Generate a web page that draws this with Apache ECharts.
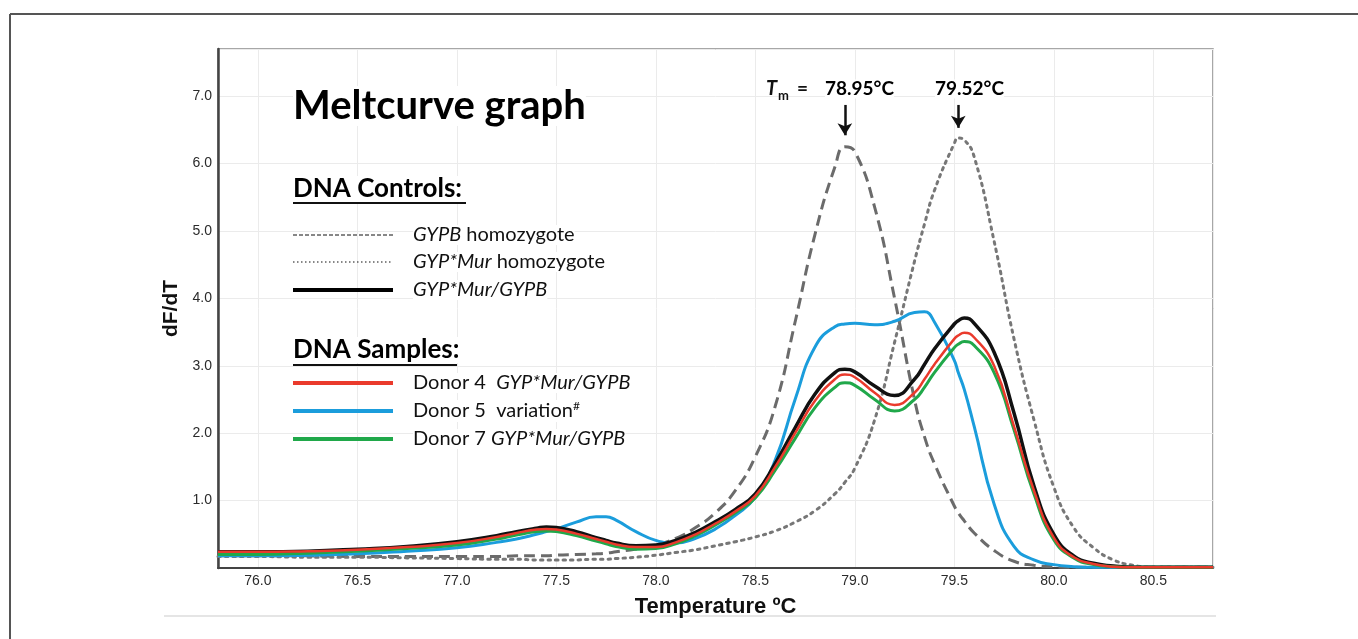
<!DOCTYPE html>
<html>
<head>
<meta charset="utf-8">
<title>Meltcurve graph</title>
<script src="https://cdn.jsdelivr.net/npm/echarts@6.0.0/dist/echarts.min.js"></script>
<style>
    html, body { margin: 0; padding: 0; background: #fff; }
    #chart { width: 1358px; height: 639px; }
</style>
</head>
<body>
<div id="chart"></div>
<script>
// temperatures (ºC) the curves were read at
var temps = [75.8, 76.0, 76.25, 76.5, 76.75, 77.0, 77.2, 77.3, 77.4, 77.45, 77.5, 77.6, 77.7, 77.75, 77.8, 77.9,
    78.0, 78.1, 78.2, 78.3, 78.4, 78.5, 78.6, 78.7, 78.8, 78.9, 78.95, 79.0, 79.1, 79.2, 79.3, 79.35, 79.4,
    79.5, 79.52, 79.55, 79.6, 79.7, 79.8, 79.9, 80.0, 80.1, 80.2, 80.3, 80.4, 80.5, 80.6, 80.8];

// DNA controls
var gypbHomo = [0.18, 0.18, 0.18, 0.17, 0.17, 0.17, 0.17, 0.18, 0.18, 0.18, 0.19, 0.2, 0.21, 0.22, 0.24, 0.28,
    0.34, 0.44, 0.6, 0.82, 1.15, 1.65, 2.4, 3.65, 4.95, 5.95, 6.25, 6.18, 5.35, 4.0, 2.5, 1.95, 1.55,
    0.92, 0.82, 0.7, 0.52, 0.26, 0.1, 0.04, 0.02, 0.01, 0.01, 0.01, 0.01, 0.01, 0.01, 0.01];
var murHomo = [0.17, 0.17, 0.16, 0.16, 0.15, 0.14, 0.13, 0.13, 0.12, 0.12, 0.12, 0.12, 0.13, 0.13, 0.14, 0.16,
    0.19, 0.23, 0.27, 0.33, 0.39, 0.46, 0.55, 0.68, 0.85, 1.1, 1.27, 1.48, 2.2, 3.35, 4.55, 5.1, 5.6,
    6.3, 6.38, 6.35, 6.1, 4.85, 3.4, 2.2, 1.2, 0.6, 0.3, 0.12, 0.04, 0.01, 0.01, 0.01];
var murGypb = [0.24, 0.24, 0.25, 0.28, 0.32, 0.39, 0.48, 0.54, 0.59, 0.61, 0.6, 0.54, 0.45, 0.41, 0.37, 0.33,
    0.34, 0.41, 0.53, 0.69, 0.87, 1.1, 1.55, 2.08, 2.58, 2.9, 2.95, 2.91, 2.7, 2.56, 2.8, 3.02, 3.25,
    3.62, 3.67, 3.71, 3.63, 3.2, 2.3, 1.22, 0.5, 0.18, 0.07, 0.03, 0.01, 0.01, 0.01, 0.01];

// DNA samples
var donor4 = [0.24, 0.24, 0.25, 0.27, 0.31, 0.37, 0.46, 0.52, 0.57, 0.58, 0.57, 0.51, 0.43, 0.39, 0.35, 0.31,
    0.31, 0.38, 0.5, 0.66, 0.84, 1.07, 1.5, 2.0, 2.48, 2.8, 2.87, 2.83, 2.6, 2.42, 2.6, 2.8, 3.02,
    3.4, 3.45, 3.49, 3.42, 3.0, 2.1, 1.15, 0.45, 0.16, 0.06, 0.02, 0.01, 0.01, 0.01, 0.01];
var donor5 = [0.18, 0.18, 0.19, 0.21, 0.25, 0.3, 0.38, 0.43, 0.5, 0.54, 0.58, 0.68, 0.76, 0.76, 0.71, 0.54,
    0.41, 0.37, 0.44, 0.58, 0.78, 1.05, 1.6, 2.5, 3.28, 3.58, 3.62, 3.63, 3.61, 3.66, 3.79, 3.8, 3.65,
    3.08, 2.9, 2.65, 2.1, 0.95, 0.32, 0.12, 0.05, 0.02, 0.01, 0.01, 0.01, 0.01, 0.01, 0.01];
var donor7 = [0.2, 0.2, 0.22, 0.25, 0.29, 0.34, 0.43, 0.49, 0.54, 0.55, 0.54, 0.48, 0.4, 0.36, 0.32, 0.28,
    0.29, 0.36, 0.48, 0.64, 0.82, 1.04, 1.45, 1.92, 2.38, 2.68, 2.75, 2.71, 2.5, 2.33, 2.5, 2.68, 2.9,
    3.27, 3.32, 3.36, 3.3, 2.9, 2.05, 1.1, 0.42, 0.15, 0.05, 0.02, 0.01, 0.01, 0.01, 0.01];

var tmPeaks = [78.95, 79.52];

function pairs(values) {
    return temps.map(function (t, i) {
        return [t, values[i]];
    });
}

var chart = echarts.init(document.getElementById('chart'), null, {renderer: 'canvas'});

var legendFont = 'Lato, "Open Sans", sans-serif';
var axisFont = '"Liberation Sans", Arial, sans-serif';

function legendLine(y, color, width, dash) {
    return {
        type: 'line',
        z: 100,
        shape: {x1: 293, y1: y, x2: 393, y2: y},
        style: {stroke: color, lineWidth: width, lineDash: dash || null}
    };
}

function legendText(y, text) {
    return {
        type: 'text',
        z: 100,
        x: 413,
        y: y,
        style: {
            text: text,
            font: '20px ' + legendFont,
            fill: '#111',
            verticalAlign: 'middle',
            backgroundColor: '#fff',
            rich: {
                i: {font: 'italic 20px ' + legendFont, fill: '#111'},
                sup: {font: '12px ' + legendFont, fill: '#111', verticalAlign: 'top', padding: [0, 0, 10, 0]}
            }
        }
    };
}

function boldText(x, y, text, size) {
    return {
        type: 'text',
        z: 100,
        x: x,
        y: y,
        style: {
            text: text,
            font: 'bold ' + size + 'px ' + legendFont,
            fill: '#000',
            verticalAlign: 'middle',
            backgroundColor: '#fff'
        }
    };
}

function tmArrow(t, yEnd) {
    return {
        silent: true,
        symbol: ['none', 'arrow'],
        symbolSize: [11, 12],
        label: {show: false},
        lineStyle: {color: '#111', width: 2.5, type: 'solid'},
        data: [[{coord: [t, 6.87]}, {coord: [t, yEnd]}]]
    };
}

chart.setOption({
    backgroundColor: '#fff',
    animation: false,
    grid: {
        left: 218,
        top: 49,
        right: 145,
        bottom: 71,
        show: true,
        borderColor: '#8a8a8a',
        borderWidth: 1.5
    },
    xAxis: {
        type: 'value',
        min: 75.8,
        max: 80.8,
        splitNumber: 10,
        name: 'Temperature ºC',
        nameLocation: 'middle',
        nameGap: 28,
        nameTextStyle: {fontFamily: axisFont, fontWeight: 'bold', fontSize: 22, color: '#111'},
        axisLine: {onZero: false, lineStyle: {color: '#444', width: 2}},
        axisTick: {show: false},
        axisLabel: {
            showMinLabel: false,
            showMaxLabel: false,
            margin: 6,
            fontFamily: axisFont,
            fontSize: 14,
            color: '#2b2b2b',
            formatter: function (v) { return v.toFixed(1); }
        },
        splitLine: {show: true, lineStyle: {color: '#ebebeb', width: 1}}
    },
    yAxis: {
        type: 'value',
        min: 0,
        max: 7.7,
        interval: 1,
        name: 'dF/dT',
        nameLocation: 'middle',
        nameGap: 32,
        nameTextStyle: {fontFamily: axisFont, fontWeight: 'bold', fontSize: 21, color: '#111'},
        axisLine: {show: true, lineStyle: {color: '#444', width: 2.5}},
        axisTick: {show: false},
        axisLabel: {
            margin: 6,
            fontFamily: axisFont,
            fontSize: 14,
            color: '#2b2b2b',
            formatter: function (v) { return (v === 0 || v > 7.05) ? '' : v.toFixed(1); }
        },
        splitLine: {show: true, lineStyle: {color: '#ebebeb', width: 1}}
    },
    series: [
        {
            name: 'GYPB homozygote',
            type: 'line',
            data: pairs(gypbHomo),
            smooth: true,
            showSymbol: false,
            lineStyle: {color: '#6b6b6b', width: 3, type: [11, 6]},
            markLine: tmArrow(tmPeaks[0], 6.42)
        },
        {
            name: 'GYP*Mur homozygote',
            type: 'line',
            data: pairs(murHomo),
            smooth: true,
            showSymbol: false,
            lineStyle: {color: '#777', width: 3, type: [2.5, 5], cap: 'round'},
            markLine: tmArrow(tmPeaks[1], 6.53)
        },
        {
            name: 'Donor 5',
            type: 'line',
            data: pairs(donor5),
            smooth: true,
            showSymbol: false,
            lineStyle: {color: '#1b9ddc', width: 3}
        },
        {
            name: 'GYP*Mur/GYPB',
            type: 'line',
            data: pairs(murGypb),
            smooth: true,
            showSymbol: false,
            lineStyle: {color: '#111', width: 3.5}
        },
        {
            name: 'Donor 7',
            type: 'line',
            data: pairs(donor7),
            smooth: true,
            showSymbol: false,
            lineStyle: {color: '#20a84a', width: 3}
        },
        {
            name: 'Donor 4',
            type: 'line',
            data: pairs(donor4),
            smooth: true,
            showSymbol: false,
            lineStyle: {color: '#ea3a2c', width: 2.5}
        }
    ],
    graphic: [
        // outer frame
        {type: 'line', shape: {x1: 10, y1: 14, x2: 1358, y2: 14}, style: {stroke: '#555', lineWidth: 2}},
        {type: 'line', shape: {x1: 10, y1: 14, x2: 10, y2: 639}, style: {stroke: '#555', lineWidth: 2}},
        // rule under the axis name
        {type: 'line', shape: {x1: 164, y1: 616, x2: 1216, y2: 616}, style: {stroke: '#dcdcdc', lineWidth: 1.5}},

        boldText(293, 106, 'Meltcurve graph', 40),

        boldText(293, 189, 'DNA Controls:', 26),
        {type: 'line', z: 100, shape: {x1: 293, y1: 203, x2: 466, y2: 203}, style: {stroke: '#111', lineWidth: 2}},
        legendLine(235, '#111', 1, [4, 2]),
        legendText(235, '{i|GYPB} homozygote'),
        legendLine(262, '#111', 1.2, [1.5, 2.5]),
        legendText(262, '{i|GYP*Mur} homozygote'),
        legendLine(290, '#000', 4),
        legendText(290, '{i|GYP*Mur/GYPB}'),

        boldText(293, 350, 'DNA Samples:', 26),
        {type: 'line', z: 100, shape: {x1: 293, y1: 365, x2: 457, y2: 365}, style: {stroke: '#111', lineWidth: 2}},
        legendLine(383, '#ea3a2c', 4),
        legendText(383, 'Donor 4  {i|GYP*Mur/GYPB}'),
        legendLine(411, '#1b9ddc', 4),
        legendText(411, 'Donor 5  variation{sup|#}'),
        legendLine(439, '#20a84a', 4),
        legendText(439, 'Donor 7 {i|GYP*Mur/GYPB}'),

        // Tm annotation
        {
            type: 'text', z: 100, x: 766, y: 89,
            style: {text: 'T', font: 'italic bold 20px ' + legendFont, fill: '#111', verticalAlign: 'middle'}
        },
        {
            type: 'text', z: 100, x: 778, y: 96,
            style: {text: 'm', font: 'bold 13px ' + legendFont, fill: '#111', verticalAlign: 'middle'}
        },
        {
            type: 'text', z: 100, x: 797, y: 89,
            style: {text: '=', font: 'bold 19px ' + legendFont, fill: '#111', verticalAlign: 'middle'}
        },
        boldText(825, 89, '78.95°C', 19),
        boldText(935, 89, '79.52°C', 19)
    ]
});
</script>
</body>
</html>
